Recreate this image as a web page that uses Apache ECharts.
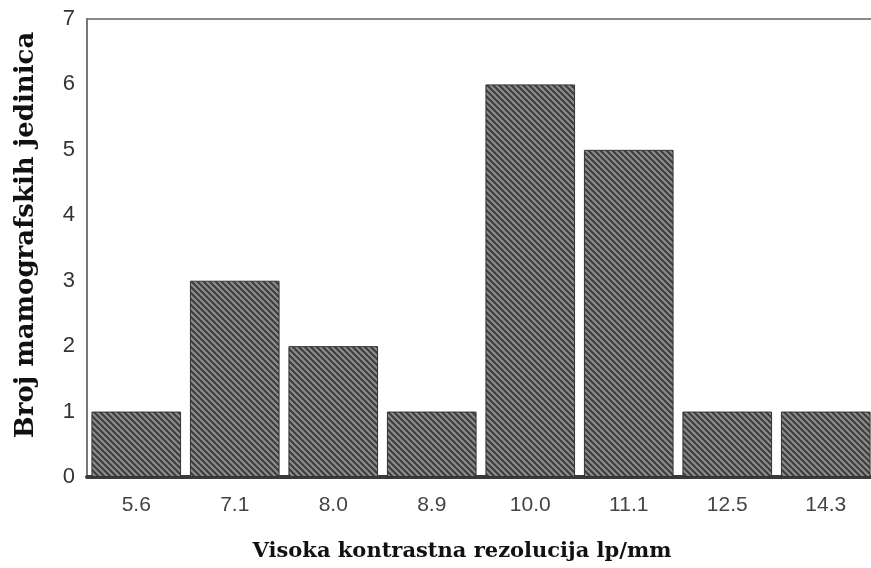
<!DOCTYPE html>
<html>
<head>
<meta charset="utf-8">
<script src="https://cdn.jsdelivr.net/npm/echarts@6/dist/echarts.min.js"></script>
<style>
  html, body { margin: 0; padding: 0; background: #fff; }
  #chart { width: 871px; height: 568px; }
</style>
</head>
<body>
<div id="chart"></div>
<script>
// categories and values
const categories = ['5.6', '7.1', '8.0', '8.9', '10.0', '11.1', '12.5', '14.3']
const counts = [1, 3, 2, 1, 6, 5, 1, 1]
const yTicks = [0, 1, 2, 3, 4, 5, 6, 7]

// hatched fill like the scanned bars
const makeHatch = () => {
  const c = document.createElement('canvas')
  c.width = 6
  c.height = 6
  const ctx = c.getContext('2d')
  ctx.fillStyle = '#8c8c8c'
  ctx.fillRect(0, 0, 6, 6)
  ctx.strokeStyle = '#3c3c3c'
  ctx.lineWidth = 2
  ctx.beginPath()
  ctx.moveTo(-1, -1); ctx.lineTo(7, 7)
  ctx.moveTo(-4, 2); ctx.lineTo(4, 10)
  ctx.moveTo(2, -4); ctx.lineTo(10, 4)
  ctx.stroke()
  return c
}

const chart = echarts.init(document.getElementById('chart'))

chart.setOption({
  animation: false,
  grid: {
    left: 87,
    width: 788,
    top: 19,
    bottom: 91,
    outerBoundsMode: 'none',
    containLabel: false,
    show: true,
    borderColor: '#8a8a8a',
    borderWidth: 2
  },
  xAxis: {
    type: 'category',
    data: categories,
    name: 'Visoka kontrastna rezolucija lp/mm',
    nameLocation: 'middle',
    nameGap: 64,
    nameTextStyle: {
      fontFamily: 'DejaVu Serif',
      fontWeight: 'bold',
      fontSize: 21,
      color: '#111',
      padding: [0, 38, 0, 0]
    },
    axisLine: { lineStyle: { color: '#3a3a3a', width: 4 } },
    axisTick: { show: false },
    axisLabel: {
      margin: 18,
      fontFamily: 'Liberation Sans',
      fontSize: 21,
      color: '#444'
    }
  },
  yAxis: {
    type: 'value',
    min: yTicks[0],
    max: yTicks[yTicks.length - 1],
    interval: 1,
    name: 'Broj mamografskih jedinica',
    nameLocation: 'middle',
    nameGap: 48,
    nameTextStyle: {
      fontFamily: 'DejaVu Serif',
      fontWeight: 'bold',
      fontSize: 26,
      color: '#111',
      padding: [0, 0, 0, 26]
    },
    axisLine: { show: true, lineStyle: { color: '#777', width: 2 } },
    axisTick: { show: false },
    splitLine: { show: false },
    axisLabel: {
      margin: 12,
      fontFamily: 'Liberation Sans',
      fontSize: 22,
      color: '#333'
    }
  },
  series: [
    {
      type: 'bar',
      data: counts,
      barCategoryGap: '9%',
      itemStyle: {
        color: { image: makeHatch(), repeat: 'repeat' },
        borderColor: '#333',
        borderWidth: 1
      }
    }
  ]
})
</script>
</body>
</html>
